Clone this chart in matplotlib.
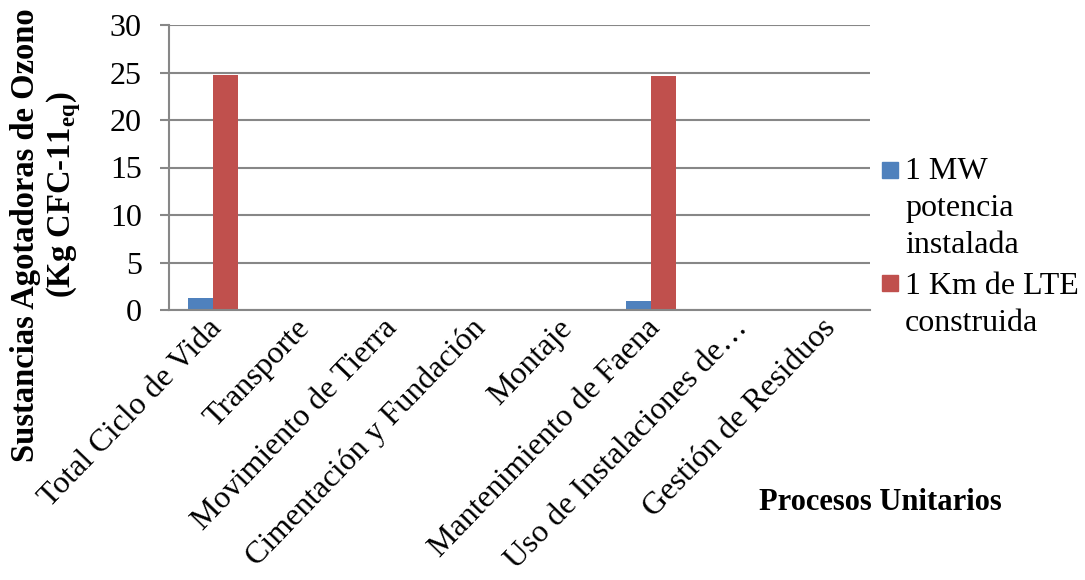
import numpy as np
import matplotlib
matplotlib.use("Agg")
import matplotlib.pyplot as plt
import matplotlib.transforms as mtransforms
from matplotlib.patches import Rectangle

plt.rcParams['font.family'] = ['Liberation Serif', 'DejaVu Serif']
plt.rcParams['mathtext.fontset'] = 'custom'
plt.rcParams['mathtext.rm'] = 'Liberation Serif'
plt.rcParams['mathtext.bf'] = 'Liberation Serif:bold'

# procesos unitarios
procesos = ["Total Ciclo de Vida", "Transporte", "Movimiento de Tierra",
            "Cimentación y Fundación", "Montaje", "Mantenimiento de Faena",
            "Uso de Instalaciones de…", "Gestión de Residuos"]

# kg CFC-11 eq por proceso
mw_potencia = [1.25, 0.0, 0.0, 0.0, 0.1, 1.0, 0.0, 0.0]
km_lte = [24.75, 0.0, 0.0, 0.0, 0.0, 24.6, 0.0, 0.0]

serie_labels = [["1 MW", "potencia", "instalada"], ["1 Km de LTE", "construida"]]
azul = "#4F81BD"
rojo = "#C0504D"
gris = "#878787"

W, H = 1085, 580
fig = plt.figure(figsize=(W / 100, H / 100), dpi=100)
ax = fig.add_axes([169 / W, 1 - 310 / H, (870 - 169) / W, (310 - 25) / H])

x = np.arange(len(procesos))
w = 0.2857
ax.bar(x - w / 2, mw_potencia, w, color=azul)
ax.bar(x + w / 2, km_lte, w, color=rojo)

ax.set_xlim(-0.5, len(procesos) - 0.5)
ax.set_ylim(0, 30)
ax.set_yticks(np.arange(0, 31, 5))
ax.yaxis.grid(True, color=gris, linewidth=1.5)
ax.set_axisbelow(True)

for s in ['top', 'right']:
    ax.spines[s].set_visible(False)
for s in ['left', 'bottom']:
    ax.spines[s].set_color(gris)
    ax.spines[s].set_linewidth(1.5)

ax.tick_params(axis='y', length=6.5, width=1.5, color=gris, pad=13, labelsize=23)
ax.tick_params(axis='x', length=0, pad=10, labelsize=23)
ax.set_xticks(x)
ax.set_xticklabels(procesos, rotation=46, ha='right', va='center',
                   rotation_mode='anchor')
shift = mtransforms.ScaledTranslation(5 / 100, 0, fig.dpi_scale_trans)
for lbl in ax.get_xticklabels():
    lbl.set_transform(lbl.get_transform() + shift)

# titulo eje y en dos lineas
fig.text(26 / W, 1 - 235 / H, "Sustancias Agotadoras de Ozono", rotation=90,
         fontsize=23.5, fontweight='bold', ha='center', va='center')
fig.text(64 / W, 1 - 195 / H, r"(Kg CFC-11$_{\mathbf{eq}}$)", rotation=90,
         fontsize=23.5, fontweight='bold', ha='center', va='center')

fig.text(880 / W, 1 - 503 / H, "Procesos Unitarios", fontsize=22,
         fontweight='bold', ha='center', va='center')

# leyenda
entradas = [(azul, 162, 179, serie_labels[0]), (rojo, 275, 294, serie_labels[1])]
for color, y_sq, y_base, lineas in entradas:
    fig.patches.append(Rectangle((882 / W, 1 - (y_sq + 16) / H), 16 / W, 16 / H,
                                 transform=fig.transFigure, color=color))
    for i, linea in enumerate(lineas):
        fig.text(905 / W, 1 - (y_base + 37 * i) / H, linea, fontsize=23,
                 ha='left', va='baseline')

fig.savefig("out.png", dpi=100)
